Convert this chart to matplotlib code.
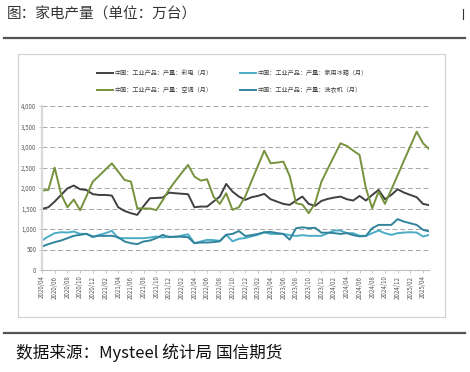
import matplotlib
matplotlib.use('Agg')
import matplotlib.pyplot as plt
import numpy as np
import pandas as pd
from matplotlib.lines import Line2D
from matplotlib.patches import Rectangle

plt.rcParams['font.family'] = ['Noto Sans CJK SC', 'DejaVu Sans']

# ── Data (万台, monthly 2020/04 – 2025/05) ─────────────────────────────────────
MONTHS = [p.strftime('%Y/%m') for p in pd.period_range('2020-04', '2025-05', freq='M')]

tv = [1490, 1530, 1670, 1830, 1990, 2060, 1970, 1950, 1850, 1830, 1830, 1815,
      1530, 1440, 1385, 1345, 1560, 1750, 1758, 1766, 1888, 1872,
      1860, 1848, 1531, 1547, 1547, 1669, 1791, 2099, 1912, 1791,
      1710, 1775, 1807, 1856, 1726, 1669, 1612, 1588, 1694, 1791,
      1612, 1564, 1685, 1734, 1766, 1791, 1726, 1694, 1807, 1694,
      1831, 1953, 1726, 1831, 1969, 1888, 1831, 1775, 1612, 1580]

ac = [1937, 1953, 2497, 1850, 1530, 1720, 1458, 1800, 2156, 2300, 2450, 2600,
      2400, 2197, 2156, 1506, 1500, 1500, 1460, 1700, 1960, 2170,
      2370, 2562, 2278, 2180, 2213, 1791, 1612, 1872, 1466, 1531,
      1791, 2170, 2540, 2911, 2603, 2619, 2643, 2294, 1628, 1596,
      1385, 1628, 2156, 2470, 2780, 3090, 3025, 2911, 2806, 1994,
      1507, 1912, 1612, 1960, 2310, 2670, 3020, 3374, 3090, 2944]

fridge = [719, 817, 898, 922, 914, 938, 882, 882, 800, 857, 898, 955,
          776, 776, 776, 776, 776, 792, 817, 792, 817, 800,
          840, 870, 654, 695, 735, 730, 710, 860, 700, 760,
          780, 820, 860, 920, 880, 880, 880, 850, 830, 850,
          833, 833, 833, 898, 963, 963, 898, 898, 833, 833,
          898, 963, 898, 857, 898, 914, 922, 914, 817, 857]

washer = [573, 630, 679, 719, 776, 833, 857, 882, 817, 833, 833, 833,
          800, 695, 654, 630, 695, 719, 776, 857, 800, 817,
          810, 800, 654, 670, 670, 680, 700, 860, 880, 950,
          830, 850, 880, 920, 930, 900, 880, 740, 1020, 1040,
          1020, 1030, 910, 910, 900, 880, 900, 850, 820, 830,
          1020, 1100, 1100, 1100, 1240, 1180, 1140, 1100, 980, 940]

SERIES = [
    ('中国：工业产品：产量：彩电（月）', tv, '#404040'),
    ('中国：工业产品：产量：空调（月）', ac, '#76923c'),
    ('中国：工业产品：产量：家用冰箱（月）', fridge, '#4bacc6'),
    ('中国：工业产品：产量：洗衣机（月）', washer, '#31849b'),
]

W, H = 470, 372
fig = plt.figure(figsize=(W / 100, H / 100), dpi=100)

def fx(px):
    return px / W

def fy(py):
    return 1 - py / H

# header / footer
fig.text(fx(7), fy(15), '图：家电产量（单位：万台）', fontsize=10.5, color='#333333',
         va='center', ha='left')
fig.add_artist(Line2D([fx(462.5), fx(462.5)], [fy(9), fy(19)], color='#333333', lw=0.8))
fig.add_artist(Line2D([fx(4), fx(465)], [fy(38), fy(38)], color='#555555', lw=1.6))
fig.add_artist(Line2D([fx(4), fx(465)], [fy(333), fy(333)], color='#555555', lw=1.6))
fig.text(fx(16), fy(353), '数据来源：Mysteel 统计局 国信期货', fontsize=12, color='#111111',
         va='center', ha='left')
fig.add_artist(Rectangle((fx(18), fy(317)), fx(445) - fx(18), fy(54) - fy(317),
                         fill=False, edgecolor='#d0d0d0', lw=0.8))

# plot area
ax = fig.add_axes([fx(42), fy(270), fx(429.4) - fx(42), fy(106) - fy(270)])
x = np.arange(len(MONTHS))
for label, vals, color in SERIES:
    ax.plot(x, vals, color=color, lw=1.4, label=label)

ax.set_xlim(0, len(MONTHS) - 1)
ax.set_ylim(0, 4000)
ax.set_yticks(np.arange(0, 4001, 500))
ax.set_yticklabels([f'{v:,}' for v in range(0, 4001, 500)])
ax.set_xticks(x[::2])
ax.set_xticklabels(MONTHS[::2], rotation=90)
ax.tick_params(axis='both', labelsize=4.4, length=2.5, width=0.6, pad=1.5)
ax.tick_params(axis='y', colors='#bfbfbf', labelcolor='#595959')
ax.tick_params(axis='x', colors='#bfbfbf', labelcolor='#595959')
for yv in range(500, 4001, 500):
    ax.axhline(yv, color='#a6a6a6', lw=0.7, ls=(0, (5, 3)), zorder=0)
for side in ['top', 'right']:
    ax.spines[side].set_visible(False)
ax.spines['left'].set_color('#d9d9d9')
ax.spines['left'].set_linewidth(1.6)
ax.spines['bottom'].set_color('#bfbfbf')
ax.spines['bottom'].set_linewidth(0.8)
ax.set_facecolor('none')

fig.legend(loc='upper left', bbox_to_anchor=(fx(97), fy(69)), ncol=2, frameon=False,
           fontsize=4.4, handlelength=2.6, handletextpad=0.2, columnspacing=4.6,
           labelspacing=1.5, borderaxespad=0, borderpad=0, labelcolor='#404040')

fig.savefig('out.png', dpi=100)
